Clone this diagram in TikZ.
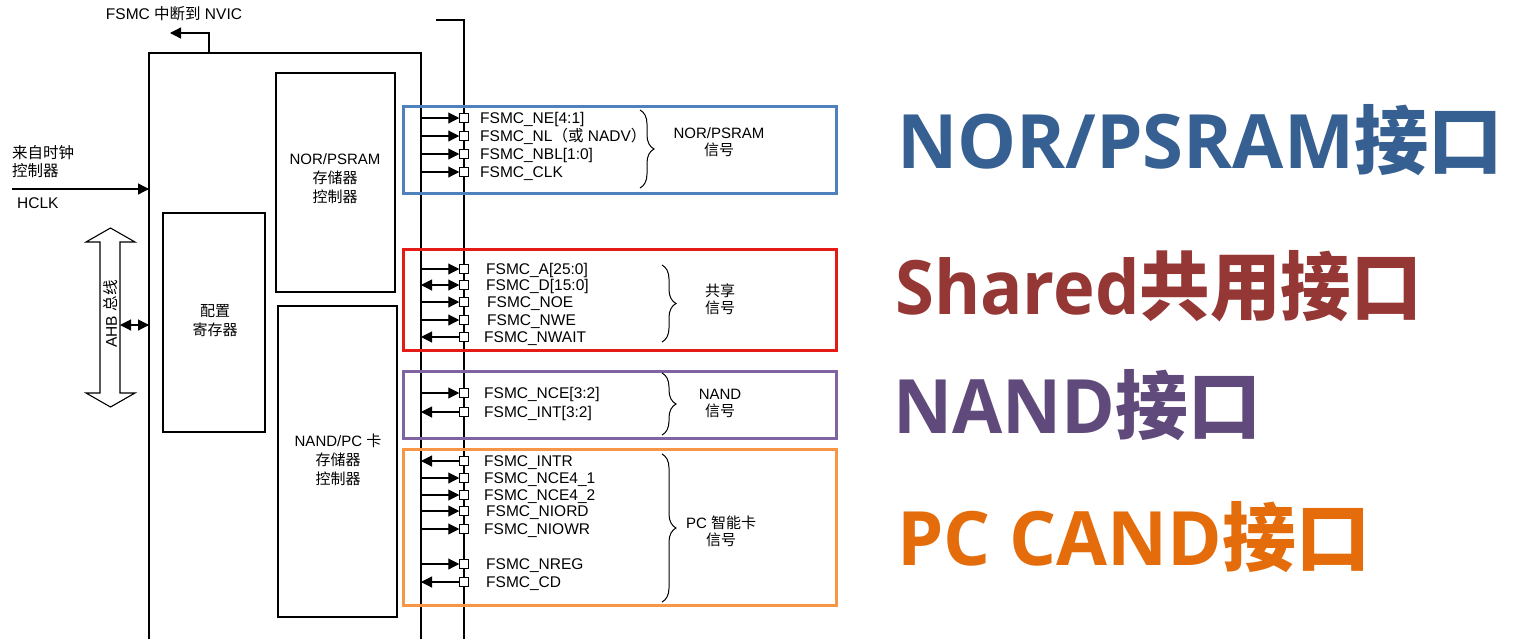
\documentclass[tikz,border=0pt]{standalone}
\usepackage{fontspec}
\setmainfont{Liberation Sans}
\newfontfamily\cjk{Noto Sans CJK SC}
\newfontfamily\titlelat{Open Sans}
\usetikzlibrary{arrows.meta,decorations.pathreplacing}
\definecolor{norbox}{HTML}{4F81BD}
\definecolor{nortitle}{HTML}{376092}
\definecolor{sharedbox}{HTML}{E41B17}
\definecolor{sharedtitle}{HTML}{953735}
\definecolor{nandbox}{HTML}{8064A2}
\definecolor{nandtitle}{HTML}{604A7B}
\definecolor{pcbox}{HTML}{F79646}
\definecolor{pctitle}{HTML}{E46C0A}
\tikzset{
  blk/.style={draw=black,line width=1.3pt},
  lbl/.style={font=\fontsize{15.5}{17}\selectfont,inner sep=0pt,anchor=base west},
  ctext/.style={font=\fontsize{15}{19}\selectfont,inner sep=0pt,align=center},
  glbl/.style={font=\fontsize{15}{17}\selectfont,inner sep=0pt,align=center},
  pinbox/.style={draw=black,fill=white,minimum size=8.5pt,inner sep=0pt,line width=1pt},
  sig/.style={line width=1.1pt},
  tipr/.style={sig,-{Triangle[length=11pt,width=11pt]}},
  tipl/.style={sig,{Triangle[length=11pt,width=11pt]}-},
  tipb/.style={sig,{Triangle[length=11pt,width=11pt]}-{Triangle[length=11pt,width=11pt]}},
  grp/.style={line width=3pt},
  brc/.style={decorate,decoration={brace,amplitude=14pt},line width=1pt},
  title/.style={font=\fontsize{75}{80}\selectfont\bfseries,inner sep=0pt,anchor=base west},
}
\begin{document}
\begin{tikzpicture}[x=1pt,y=-1pt]
\useasboundingbox (0,0) rectangle (1537,638);
\fill[white] (0,0) rectangle (1537,638);

% main FSMC box (open at bottom)
\coordinate (mbl) at (149,640);
\coordinate (mtl) at (149,53);
\coordinate (mtr) at (421,53);
\coordinate (mbr) at (421,640);
\draw[blk] (mbl) -- (mtl) -- (mtr) -- (mbr);

% interrupt to NVIC
\coordinate (irq) at (209,53);
\coordinate (irqc) at (209,33);
\coordinate (irqe) at (170,33);
\draw[blk,-{Triangle[length=11pt,width=11pt]}] (irq) -- (irqc) -- (irqe);
\node[font=\fontsize{15.5}{17}\selectfont,inner sep=0pt] (nvic) at (174,14) {FSMC {\cjk 中断到} NVIC};

% external pin line
\coordinate (xt0) at (436,20);
\coordinate (xt1) at (464,20);
\coordinate (xt2) at (464,640);
\draw[blk] (xt0) -- (xt1) -- (xt2);

% inner blocks
\node[blk,minimum width=119pt,minimum height=219pt,inner sep=0pt] (norc) at (335.5,182.5) {};
\node[ctext] (norct) at (335,179) {NOR/PSRAM\\{\cjk 存储器}\\{\cjk 控制器}};
\node[blk,minimum width=102pt,minimum height=219pt,inner sep=0pt] (cfg) at (214,322.5) {};
\node[ctext] (cfgt) at (215,321) {{\cjk 配置}\\{\cjk 寄存器}};
\node[blk,minimum width=119pt,minimum height=311pt,inner sep=0pt] (nandc) at (337.5,461.5) {};
\node[ctext] (nandct) at (338,460) {NAND/PC {\cjk 卡}\\{\cjk 存储器}\\{\cjk 控制器}};

% clock input
\coordinate (clk) at (12,189);
\coordinate (clkin) at (149,189);
\draw[blk,-{Triangle[length=11pt,width=11pt]}] (clk) -- (clkin);
\node[font=\fontsize{15.5}{18}\selectfont,inner sep=0pt,align=left,anchor=west] (clkt) at (12,162) {{\cjk 来自时钟}\\{\cjk 控制器}};
\node[font=\fontsize{15.5}{17}\selectfont,inner sep=0pt,anchor=west] (hclk) at (17,203) {HCLK};

% AHB bus
\draw[line width=1.1pt] (110.5,228) -- (135,242) -- (120,242) -- (120,393) -- (135,393) -- (110.5,407)
  -- (86,393) -- (100,393) -- (100,242) -- (86,242) -- cycle;
\node[font=\fontsize{15.5}{17}\selectfont,inner sep=0pt,rotate=90] (ahb) at (111,314) {AHB {\cjk 总线}};
\coordinate (ahbr) at (120,325);
\coordinate (ahbf) at (149,325);
\draw[tipb] (ahbr) -- (ahbf);

% group frames
\node[grp,draw=norbox,minimum width=433pt,minimum height=87pt,inner sep=0pt] (gnor) at (619.5,149.5) {};
\node[grp,draw=sharedbox,minimum width=433pt,minimum height=101pt,inner sep=0pt] (gsh) at (619.5,299.5) {};
\node[grp,draw=nandbox,minimum width=433pt,minimum height=67pt,inner sep=0pt] (gnand) at (619.5,404.5) {};
\node[grp,draw=pcbox,minimum width=433pt,minimum height=156pt,inner sep=0pt] (gpc) at (619.5,527) {};

% signals: outputs
\foreach \y in {118,136,154,172,269,302,320,393,478,495,511,529,564}{
  \node[pinbox] (p\y) at (464,\y) {};
  \coordinate (b\y) at (421,\y);
  \draw[tipr] (b\y) -- (p\y.west);
}
% inputs
\foreach \y in {337,412,461,582}{
  \node[pinbox] (p\y) at (464,\y) {};
  \coordinate (b\y) at (421,\y);
  \draw[tipl] (b\y) -- (p\y.west);
}
% bidirectional
\foreach \y in {285}{
  \node[pinbox] (p\y) at (464,\y) {};
  \coordinate (b\y) at (421,\y);
  \draw[tipb] (b\y) -- (p\y.west);
}

% signal names
\node[lbl] (l118) at (480,123.5) {FSMC\_NE[4:1]};
\node[lbl] (l136) at (480,141.5) {FSMC\_NL{\cjk （或} NADV{\cjk ）}};
\node[lbl] (l154) at (480,159.5) {FSMC\_NBL[1:0]};
\node[lbl] (l172) at (480,177.5) {FSMC\_CLK};
\node[lbl] (l269) at (486,274.5) {FSMC\_A[25:0]};
\node[lbl] (l285) at (486,290.5) {FSMC\_D[15:0]};
\node[lbl] (l302) at (487,307.5) {FSMC\_NOE};
\node[lbl] (l320) at (487,325.5) {FSMC\_NWE};
\node[lbl] (l337) at (484,342.5) {FSMC\_NWAIT};
\node[lbl] (l393) at (484,398.5) {FSMC\_NCE[3:2]};
\node[lbl] (l412) at (484,417.5) {FSMC\_INT[3:2]};
\node[lbl] (l461) at (484,466.5) {FSMC\_INTR};
\node[lbl] (l478) at (484,483.5) {FSMC\_NCE4\_1};
\node[lbl] (l495) at (484,500.5) {FSMC\_NCE4\_2};
\node[lbl] (l511) at (486,516.5) {FSMC\_NIORD};
\node[lbl] (l529) at (484,534.5) {FSMC\_NIOWR};
\node[lbl] (l564) at (486,569.5) {FSMC\_NREG};
\node[lbl] (l582) at (486,587.5) {FSMC\_CD};

% braces
\coordinate (br1a) at (640,110); \coordinate (br1b) at (640,188);
\draw[brc] (br1a) -- (br1b);
\coordinate (br2a) at (662,265); \coordinate (br2b) at (662,342);
\draw[brc] (br2a) -- (br2b);
\coordinate (br3a) at (662,373); \coordinate (br3b) at (662,435);
\draw[brc] (br3a) -- (br3b);
\coordinate (br4a) at (662,454); \coordinate (br4b) at (662,602);
\draw[brc] (br4a) -- (br4b);

% group labels
\node[glbl] (g1) at (719,142) {NOR/PSRAM\\{\cjk 信号}};
\node[glbl] (g2) at (720,299) {{\cjk 共享}\\{\cjk 信号}};
\node[glbl] (g3) at (720,403) {NAND\\{\cjk 信号}};
\node[glbl] (g4) at (721,531) {PC {\cjk 智能卡}\\{\cjk 信号}};

% titles
\node[title,text=nortitle] (t1) at (897,168) {\scalebox{0.99}[1]{{\titlelat NOR/PSRAM}{\cjk 接口}}};
\node[title,text=sharedtitle] (t2) at (895,314) {\scalebox{0.94}[1]{{\titlelat Shared}{\cjk 共用接口}}};
\node[title,text=nandtitle] (t3) at (893,433) {\scalebox{0.97}[1]{{\titlelat NAND}{\cjk 接口}}};
\node[title,text=pctitle] (t4) at (897,565) {\scalebox{0.985}[1]{{\titlelat PC CAND}{\cjk 接口}}};
\end{tikzpicture}
\end{document}
